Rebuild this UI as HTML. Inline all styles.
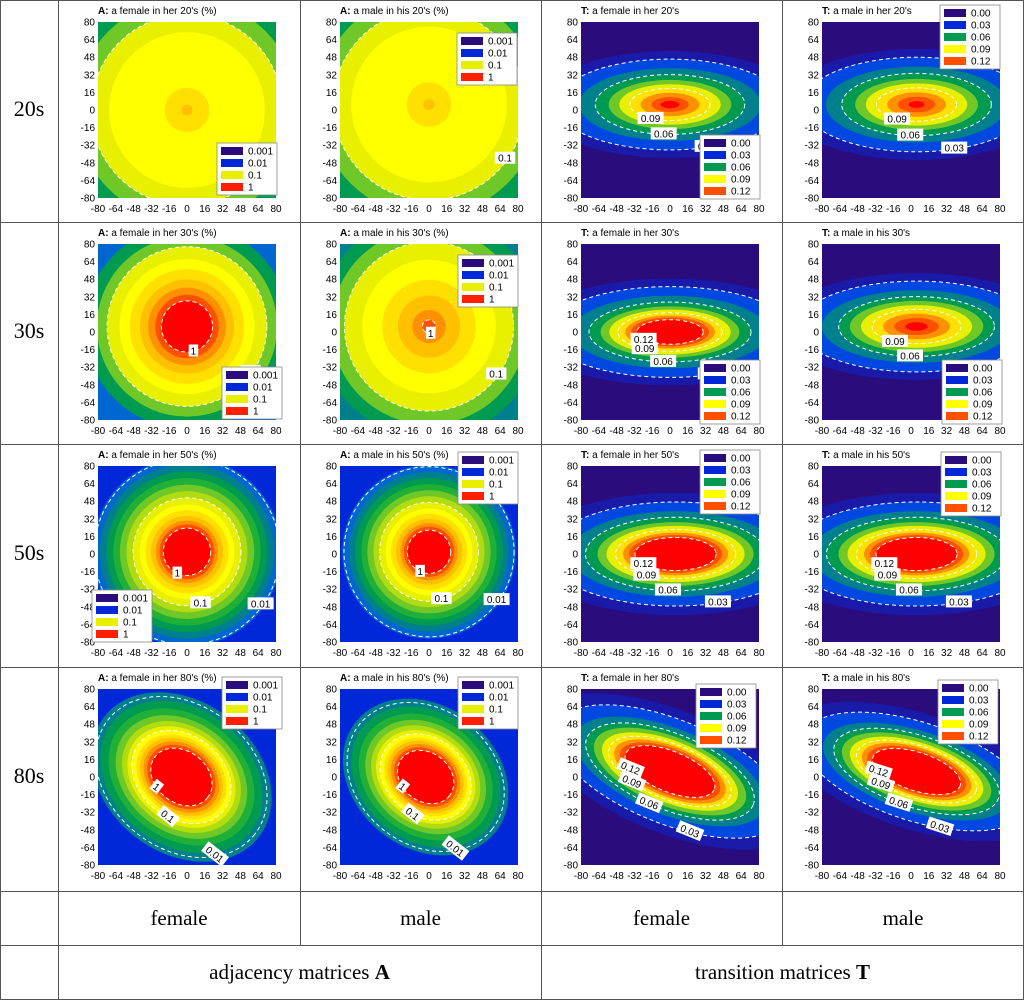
<!DOCTYPE html>
<html><head><meta charset="utf-8">
<style>
body{margin:0;background:#fff;}
#wrap{position:relative;width:1024px;height:1000px;overflow:hidden;font-family:"Liberation Sans",sans-serif;}
.ln{position:absolute;background:#555;}
.rl{position:absolute;font-family:"Liberation Serif",serif;font-size:22px;color:#000;text-align:center;}
.cl{position:absolute;font-family:"Liberation Serif",serif;font-size:21px;color:#000;text-align:center;}
</style></head><body>
<div id="wrap">
<svg id="svg" width="1024" height="1000" style="position:absolute;left:0;top:0"></svg>
<div class="ln" style="left:0;top:0;width:1024px;height:1px"></div>
<div class="ln" style="left:0;top:999px;width:1024px;height:1px"></div>
<div class="ln" style="left:0;top:0;width:1px;height:1000px"></div>
<div class="ln" style="left:1023px;top:0;width:1px;height:1000px"></div>
<div class="ln" style="left:58px;top:0;width:1px;height:1000px"></div>
<div class="ln" style="left:300px;top:0;width:1px;height:945px"></div>
<div class="ln" style="left:541px;top:0;width:1px;height:1000px"></div>
<div class="ln" style="left:782px;top:0;width:1px;height:945px"></div>
<div class="ln" style="left:0;top:222px;width:1024px;height:1px"></div>
<div class="ln" style="left:0;top:444px;width:1024px;height:1px"></div>
<div class="ln" style="left:0;top:667px;width:1024px;height:1px"></div>
<div class="ln" style="left:0;top:891px;width:1024px;height:1px"></div>
<div class="ln" style="left:0;top:945px;width:1024px;height:1px"></div>
<div class="rl" style="left:0;width:58px;top:96px">20s</div>
<div class="rl" style="left:0;width:58px;top:318px">30s</div>
<div class="rl" style="left:0;width:58px;top:540px">50s</div>
<div class="rl" style="left:0;width:58px;top:763px">80s</div>
<div class="cl" style="left:58px;width:242px;top:906px">female</div>
<div class="cl" style="left:300px;width:241px;top:906px">male</div>
<div class="cl" style="left:541px;width:241px;top:906px">female</div>
<div class="cl" style="left:782px;width:242px;top:906px">male</div>
<div class="cl" style="left:58px;width:483px;top:960px">adjacency matrices <b>A</b></div>
<div class="cl" style="left:541px;width:483px;top:960px">transition matrices <b>T</b></div>
</div>
<script>
const pal=['#2b0c7c','#1a1aa8','#0028d8','#0048e0','#0066d0','#00808c','#009a50','#20b038','#70c828','#b0dc10','#e8f000','#ffff00','#ffe000','#ffc000','#ff9000','#ff5000','#ff0000'];
const colX=[58,300,541,782];
const rowY=[0,222,444,667];
const titles=[["A:","a female in her 20's (%)"],["A:","a male in his 20's  (%)"],["T:","a female in her 20's"],["T:","a male in her 20's"],
["A:","a female in her 30's (%)"],["A:","a male in his 30's  (%)"],["T:","a female in her 30's"],["T:","a male in his 30's"],
["A:","a female in her 50's  (%)"],["A:","a male in his 50's  (%)"],["T:","a female in her 50's"],["T:","a male in his 50's"],
["A:","a female in her 80's (%)"],["A:","a male in his 80's (%)"],["T:","a female in her 80's"],["T:","a male in his 80's"]];
const bgIdx=[6,6,0,0, 4,5,0,0, 2,2,0,0, 2,2,0,0];
const cxs=[0,0,0,5, 0,0,0,5, 0,0,5,5, -5,-3,0,5];
const cys=[0,5,5,5, 5,5,0,5, 2,2,0,0, 0,0,5,5];
const rxs=[100,100,120,120, 92,100,130,125, 85,78,135,135, 88,80,130,125];
const rys=[100,100,48,50, 92,100,48,48, 85,78,55,55, 68,64,55,52];
const rots=[0,0,0,0, 0,0,0,0, 0,0,0,0, 38,38,22,18];
const aColors=[5,6,7,8,9,10,11,12,13,14,15,16];
const tColors=[1,3,5,6,8,10,12,14,15,16];
const bandColors=[[8,10,11,12,13],[8,10,11,12,13],tColors,tColors,
[6,8,10,11,12,13,14,15,16],[6,8,10,11,12,13,14,15],tColors,tColors,
[4,5,6,7,8,9,10,11,12,13,14,15,16],[4,5,6,7,8,9,10,11,12,13,14,15,16],tColors,tColors,
aColors,aColors,tColors,tColors];
const bandScales=[[1,0.86,0.7,0.2,0.05],[1,0.86,0.7,0.2,0.05],[1,0.85,0.68,0.56,0.46,0.38,0.3,0.22,0.14,0.07],[1,0.85,0.68,0.56,0.46,0.38,0.3,0.22,0.14,0.06],
[1,0.88,0.78,0.66,0.56,0.46,0.38,0.31,0.25],[1,0.88,0.76,0.6,0.42,0.28,0.15,0.06],[1,0.85,0.68,0.56,0.48,0.42,0.36,0.31,0.27,0.23],[1,0.85,0.68,0.56,0.48,0.4,0.32,0.24,0.16,0.08],
[1,0.92,0.85,0.78,0.71,0.64,0.57,0.5,0.44,0.38,0.33,0.29,0.25],[1,0.92,0.85,0.78,0.71,0.64,0.57,0.5,0.44,0.38,0.33,0.29,0.25],[1,0.85,0.7,0.6,0.52,0.46,0.4,0.35,0.31,0.27],[1,0.85,0.7,0.6,0.52,0.46,0.4,0.35,0.31,0.27],
[1,0.9,0.81,0.73,0.66,0.6,0.55,0.5,0.46,0.42,0.38,0.34],[1,0.9,0.81,0.73,0.66,0.6,0.55,0.5,0.46,0.42,0.38,0.34],[1,0.85,0.7,0.62,0.56,0.5,0.45,0.41,0.37,0.33],[1,0.85,0.7,0.62,0.56,0.5,0.45,0.41,0.37,0.33]];
const dashScales=[[0.86],[0.86],[0.85,0.56,0.3],[0.85,0.56,0.3],[0.78,0.25],[0.76,0.06],[0.85,0.56,0.36,0.23],[0.85,0.56,0.32],
[0.98,0.57,0.25],[0.98,0.57,0.25],[0.85,0.6,0.4,0.27],[0.85,0.6,0.4,0.27],[0.95,0.55,0.34],[0.95,0.55,0.34],[0.85,0.62,0.45,0.33],[0.85,0.62,0.45,0.33]];
const dashLabels=[["0.1"],["0.1"],["0.03","0.06","0.09"],["0.03","0.06","0.09"],["0.1","1"],["0.1","1"],["0.03","0.06","0.09","0.12"],["0.03","0.06","0.09"],
["0.01","0.1","1"],["0.01","0.1","1"],["0.03","0.06","0.09","0.12"],["0.03","0.06","0.09","0.12"],["0.01","0.1","1"],["0.01","0.1","1"],["0.03","0.06","0.09","0.12"],["0.03","0.06","0.09","0.12"]];
const legendX=[159,157,159,158,164,158,159,160,34,158,159,159,164,158,155,156];
const legendY=[143,33,135,5,145,33,138,138,146,8,6,8,10,10,17,13];
const aLegLabels=["0.001","0.01","0.1","1"];
const aLegColors=['#2b0c7c','#0028d8','#e8f000','#ff2000'];
const tLegLabels=["0.00","0.03","0.06","0.09","0.12"];
const tLegColors=['#2b0c7c','#0028d8','#009a50','#ffff00','#ff5000'];
const ticks=[80,64,48,32,16,0,-16,-32,-48,-64,-80];

const NS="http://www.w3.org/2000/svg";
const svg=document.getElementById('svg');
function mk(t,a,p){const e=document.createElementNS(NS,t);for(const k in a)e.setAttribute(k,a[k]);(p||svg).appendChild(e);return e;}
const defs=mk('defs',{});
const PW=178,PH=176,S=PW/160;
for(let i=0;i<16;i++){
  const r=Math.floor(i/4),c=i%4;
  const L=colX[c]+40,T=rowY[r]+22;
  const xs=v=>L+(v+80)*S, ys=v=>T+(80-v)*PH/160;
  const cp=mk('clipPath',{id:'cp'+i},defs);
  mk('rect',{x:L,y:T,width:PW,height:PH},cp);
  const g=mk('g',{'clip-path':'url(#cp'+i+')'});
  
  
  mk('rect',{x:L,y:T,width:PW,height:PH,fill:pal[bgIdx[i]]},g);
  const cx=xs(cxs[i]),cy=ys(cys[i]);
  const tr='rotate('+rots[i]+' '+cx+' '+cy+')';
  const cols=bandColors[i],sc=bandScales[i];
  for(let k=0;k<cols.length&&k<sc.length;k++){
    const e=mk('ellipse',{cx:cx,cy:cy,rx:rxs[i]*S*sc[k],ry:rys[i]*S*sc[k],fill:pal[cols[k]],transform:tr},g);
    
    
  }
  const ds=dashScales[i];
  for(let k=0;k<ds.length;k++){
    const rx=rxs[i]*S*ds[k],ry=rys[i]*S*ds[k];
    const e=mk('ellipse',{cx:cx,cy:cy,rx:rx,ry:ry,fill:'none',stroke:'#fff','stroke-width':1,'stroke-dasharray':'4,3',transform:tr},g);
    
    
    const ang=(c>=2?(70+k*25):(35+k*40))*Math.PI/180;
    const lx=cx+rx*Math.cos(ang)*0.97,ly=cy+ry*Math.sin(ang)*0.97;
    const lab=mk('g',{transform:tr},g);
    
    
    const w=dashLabels[i][k].length*5.5+4;
    mk('rect',{x:lx-w/2,y:ly-6,width:w,height:12,fill:'#fff'},lab);
    const t=mk('text',{x:lx,y:ly+4,'font-size':10,'text-anchor':'middle',fill:'#000'},lab);
    t.textContent=dashLabels[i][k];
  }
  for(const v of ticks){
    const ty=mk('text',{x:L-3,y:ys(v)+3.5,'font-size':10,'text-anchor':'end',fill:'#000'});
    ty.textContent=v;
    
    
    const tx=mk('text',{x:xs(v),y:T+PH+14,'font-size':10,'text-anchor':'middle',fill:'#000'});
    tx.textContent=v;
    
    
  }
  const tt=mk('text',{x:colX[c]+40,y:rowY[r]+14,'font-size':10,fill:'#000'});
  
  
  const b=mk('tspan',{'font-weight':'bold'},tt);b.textContent=titles[i][0]+' ';
  const s2=mk('tspan',{},tt);s2.textContent=' '+titles[i][1];
  const isA=(c<2);
  const labs=isA?aLegLabels:tLegLabels, lc=isA?aLegColors:tLegColors;
  const lx=colX[c]+legendX[i], ly=rowY[r]+legendY[i];
  const lg=mk('g',{});
  
  
  mk('rect',{x:lx,y:ly,width:60,height:labs.length*12+4,fill:'#fff',stroke:'#888','stroke-width':0.8},lg);
  for(let k=0;k<labs.length;k++){
    mk('rect',{x:lx+4,y:ly+4+k*12,width:22,height:8,fill:lc[k]},lg);
    const t=mk('text',{x:lx+31,y:ly+11.5+k*12,'font-size':10,fill:'#000'},lg);
    t.textContent=labs[k];
  }
}
</script>
</body></html>
